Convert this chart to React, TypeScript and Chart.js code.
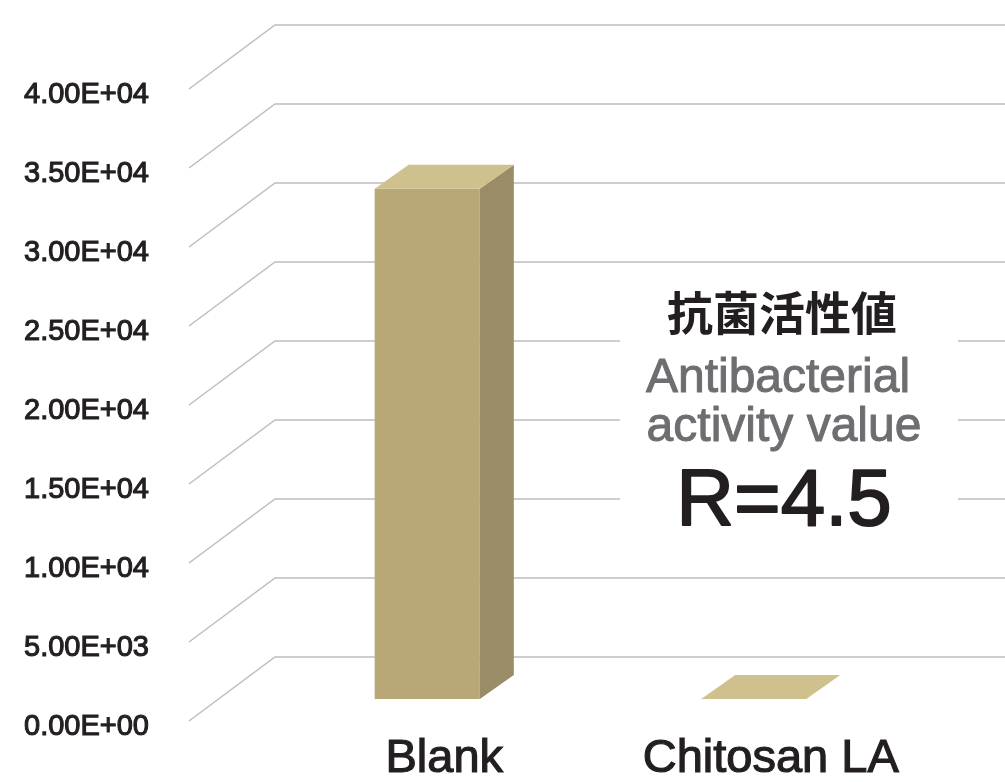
import React, { useEffect, useRef } from "react";
import { Chart, registerables } from "chart.js";

Chart.register(...registerables);

// ---- data ----
const categories = ["Blank", "Chitosan LA"];
const values = [32300, 1];
const yMin = 0;
const yMax = 40000;
const yStep = 5000;
const tickLabels = [
  "0.00E+00",
  "5.00E+03",
  "1.00E+04",
  "1.50E+04",
  "2.00E+04",
  "2.50E+04",
  "3.00E+04",
  "3.50E+04",
  "4.00E+04",
];
const annotationTitle = "抗菌活性値";
const annotationSub = ["Antibacterial", "activity value"];
const annotationValue = "R=4.5";

// ---- style ----
const FONT = '"Liberation Sans", Arial, Helvetica, sans-serif';
const FRONT = "#b8a878";
const SIDE = "#9a8c66";
const TOP = "#cfc18e";
const GRID = "#bdbdbd";
const DEPTH_DX = 34;
const DEPTH_DY = 24;
const BACK_OFFSET = 42; // back plane is this many px above bar front plane
const GRID_DX = 86;
const GRID_DY = 64;

const gridPlugin = {
  id: "perspectiveGrid",
  beforeDatasetsDraw(chart: any) {
    const { ctx, chartArea } = chart;
    const ys = chart.scales.y;
    ctx.save();
    ctx.strokeStyle = GRID;
    ctx.lineWidth = 1.5;
    ys.ticks.forEach((t: any) => {
      const yf = ys.getPixelForValue(t.value);
      const yb = yf - BACK_OFFSET;
      const xb = chartArea.left + 11;
      ctx.beginPath();
      ctx.moveTo(xb - GRID_DX, yb + GRID_DY);
      ctx.lineTo(xb, yb);
      ctx.lineTo(chart.width, yb);
      ctx.stroke();
    });
    ctx.restore();
  },
};

const bar3dPlugin = {
  id: "bar3d",
  afterDatasetsDraw(chart: any) {
    const { ctx } = chart;
    const meta = chart.getDatasetMeta(0);
    ctx.save();
    meta.data.forEach((bar: any) => {
      const p = bar.getProps(["x", "y", "base", "width"], true);
      const left = p.x - p.width / 2;
      const right = p.x + p.width / 2;
      const top = Math.min(p.y, p.base);
      const base = Math.max(p.y, p.base);
      if (base - top > 0.5) {
        ctx.fillStyle = SIDE;
        ctx.beginPath();
        ctx.moveTo(right, top);
        ctx.lineTo(right + DEPTH_DX, top - DEPTH_DY);
        ctx.lineTo(right + DEPTH_DX, base - DEPTH_DY);
        ctx.lineTo(right, base);
        ctx.closePath();
        ctx.fill();
      }
      ctx.fillStyle = TOP;
      ctx.beginPath();
      ctx.moveTo(left, top);
      ctx.lineTo(left + DEPTH_DX, top - DEPTH_DY);
      ctx.lineTo(right + DEPTH_DX, top - DEPTH_DY);
      ctx.lineTo(right, top);
      ctx.closePath();
      ctx.fill();
    });
    ctx.restore();
  },
};

function strokedText(ctx: any, text: string, x: number, y: number, w: number) {
  ctx.fillText(text, x, y);
  if (w > 0) {
    ctx.lineWidth = w;
    ctx.lineJoin = "round";
    ctx.strokeText(text, x, y);
  }
}

const annotationPlugin = {
  id: "annotationText",
  afterDraw(chart: any) {
    const { ctx } = chart;
    const cx = 784;
    ctx.save();
    ctx.fillStyle = "#ffffff";
    ctx.fillRect(620, 282, 338, 256);
    ctx.textAlign = "center";
    ctx.fillStyle = "#231f20";
    ctx.strokeStyle = "#231f20";
    ctx.font = 'bold 46px "Noto Sans CJK JP"';
    ctx.textBaseline = "middle";
    ctx.fillText(annotationTitle, 782, 313);
    ctx.textBaseline = "alphabetic";
    ctx.fillStyle = "#6d6e71";
    ctx.strokeStyle = "#6d6e71";
    ctx.font = "48px " + FONT;
    strokedText(ctx, annotationSub[0], 778, 392, 1);
    strokedText(ctx, annotationSub[1], 784, 441, 1);
    ctx.fillStyle = "#231f20";
    ctx.strokeStyle = "#231f20";
    ctx.font = "80px " + FONT;
    strokedText(ctx, annotationValue, cx, 525, 1.8);
    ctx.restore();
  },
};

export default function App() {
  const ref = useRef<HTMLCanvasElement>(null);

  useEffect(() => {
    document.body.style.margin = "0";
    const canvas = ref.current;
    if (!canvas) return;
    const chart = new Chart(canvas, {
      type: "bar",
      data: {
        labels: categories,
        datasets: [
          {
            data: values,
            backgroundColor: FRONT,
            borderWidth: 0,
            categoryPercentage: 1,
            barPercentage: 0.322,
          },
        ],
      },
      options: {
        responsive: false,
        animation: false,
        devicePixelRatio: 1,
        layout: { autoPadding: false, padding: { left: 24, right: 88, top: 67, bottom: 0 } },
        plugins: {
          legend: { display: false },
          tooltip: { enabled: false },
        },
        scales: {
          x: {
            grid: { display: false, drawTicks: false },
            border: { display: false },
            ticks: {
              color: "#231f20",
              textStrokeColor: "#231f20",
              textStrokeWidth: 1.2,
              font: { family: FONT, size: 47 },
              padding: 32,
              labelOffset: 17,
              maxRotation: 0,
              autoSkip: false,
            },
            afterFit: (s: any) => {
              s.height = 83;
            },
          },
          y: {
            min: yMin,
            max: yMax,
            grid: { display: false, drawTicks: false },
            border: { display: false },
            ticks: {
              stepSize: yStep,
              color: "#231f20",
              textStrokeColor: "#231f20",
              textStrokeWidth: 1.1,
              font: { family: FONT, size: 29 },
              padding: 0,
              crossAlign: "far",
              labelOffset: 28,
              callback: (_v: any, i: number) => tickLabels[i],
            },
            afterFit: (s: any) => {
              s.width = 240;
            },
          },
        },
      },
      plugins: [gridPlugin, bar3dPlugin, annotationPlugin],
    });
    return () => chart.destroy();
  }, []);

  return (
    <div style={{ width: 1005, height: 782, background: "#fff" }}>
      <canvas ref={ref} width={1005} height={782} style={{ display: "block" }} />
    </div>
  );
}
